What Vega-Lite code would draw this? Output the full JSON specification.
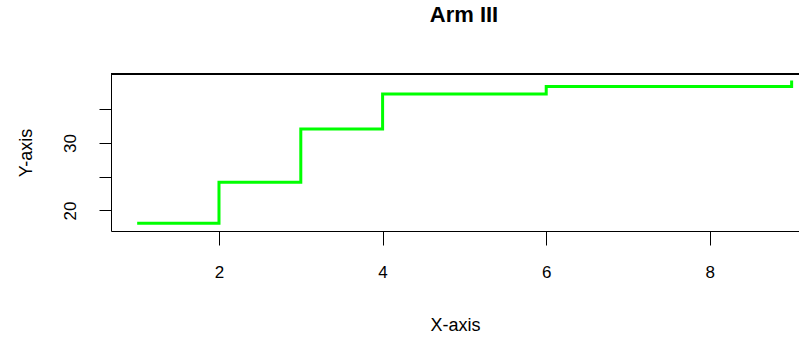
{
  "$schema": "https://vega.github.io/schema/vega-lite/v6.json",
  "autosize": {"type": "none"},
  "padding": {"left": 111, "top": 74, "right": 0, "bottom": 109},
  "width": 688,
  "height": 157,
  "background": "white",
  "title": {
    "text": "Arm III",
    "font": "Liberation Sans",
    "fontSize": 22,
    "fontWeight": "bold",
    "color": "black",
    "anchor": "middle",
    "dx": 9,
    "offset": 47
  },
  "config": {
    "view": {"stroke": null},
    "axis": {
      "domainColor": "black",
      "tickColor": "black",
      "labelColor": "black",
      "titleColor": "black",
      "labelFont": "Liberation Sans",
      "titleFont": "Liberation Sans",
      "labelFontSize": 17,
      "titleFontSize": 18,
      "titleFontWeight": "normal",
      "grid": false,
      "tickSize": 12
    }
  },
  "data": {
    "values": [
      {"x": 1, "y": 18.1},
      {"x": 2, "y": 24.2},
      {"x": 3, "y": 32.1},
      {"x": 4, "y": 37.3},
      {"x": 5, "y": 37.3},
      {"x": 6, "y": 38.4},
      {"x": 7, "y": 38.4},
      {"x": 8, "y": 38.4},
      {"x": 9, "y": 39.3}
    ]
  },
  "layer": [
    {
      "mark": {"type": "line", "interpolate": "step-after", "color": "#00ff00", "strokeWidth": 3, "clip": true},
      "encoding": {
        "x": {
          "field": "x",
          "type": "quantitative",
          "scale": {"domain": [0.68, 9.09], "nice": false, "zero": false},
          "axis": {"title": "X-axis", "values": [2, 4, 6, 8], "tickSize": 14, "labelPadding": 19, "titlePadding": 36, "labelFlush": false}
        },
        "y": {
          "field": "y",
          "type": "quantitative",
          "scale": {"domain": [16.95, 40.25], "nice": false, "zero": false},
          "axis": {
            "title": "Y-axis",
            "values": [20, 25, 30, 35],
            "labelExpr": "datum.value % 10 == 0 ? datum.label : ''",
            "labelAngle": -90,
            "labelAlign": "center",
            "labelBaseline": "bottom",
            "labelPadding": 20,
            "titlePadding": 26,
            "labelFlush": false
          }
        }
      }
    },
    {
      "mark": {"type": "rule", "color": "black", "strokeWidth": 1},
      "encoding": {"y": {"datum": 40.25}}
    }
  ]
}
